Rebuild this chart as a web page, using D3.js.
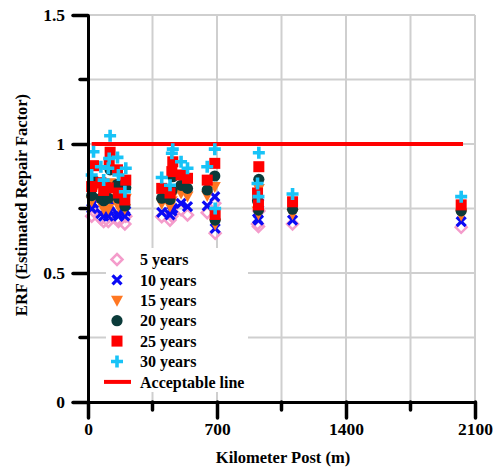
<!DOCTYPE html>
<html>
<head>
<meta charset="utf-8">
<script src="https://cdn.jsdelivr.net/npm/d3@7"></script>
<style>
  body { margin: 0; background: #fff; }
  svg { display: block; font-family: "Liberation Serif", "Times New Roman", serif; font-weight: bold; }
</style>
</head>
<body>
<svg id="chart" width="502" height="468"></svg>
<script>
// kilometer posts of the inspected spans
const km = [20, 30, 70, 85, 110, 115, 120, 160, 165, 200, 205,
    400, 445, 455, 460, 505, 540, 647, 688, 690, 920, 925, 927, 1110, 2025];

const erf5 = [0.72, 0.74, 0.71, 0.70, 0.70, 0.72, 0.73, 0.71, 0.70, 0.69, 0.72,
    0.718, 0.705, 0.72, 0.73, 0.745, 0.725, 0.734, 0.77, 0.654, 0.69, 0.68, 0.74, 0.69, 0.677];
const erf10 = [0.75, 0.77, 0.73, 0.72, 0.72, 0.74, 0.76, 0.73, 0.72, 0.72, 0.74,
    0.735, 0.725, 0.74, 0.75, 0.77, 0.757, 0.76, 0.796, 0.673, 0.71, 0.705, 0.77, 0.705, 0.699];
const erf15 = [0.78, 0.82, 0.77, 0.75, 0.75, 0.79, 0.85, 0.77, 0.76, 0.75, 0.79,
    0.77, 0.76, 0.78, 0.80, 0.81, 0.798, 0.80, 0.835, 0.69, 0.74, 0.73, 0.828, 0.73, 0.725];
const erf20 = [0.80, 0.86, 0.79, 0.78, 0.79, 0.83, 0.90, 0.844, 0.79, 0.76, 0.83,
    0.79, 0.785, 0.82, 0.873, 0.84, 0.828, 0.822, 0.876, 0.705, 0.78, 0.744, 0.863, 0.747, 0.741];
const erf25 = [0.835, 0.916, 0.85, 0.82, 0.83, 0.925, 0.968, 0.90, 0.81, 0.783, 0.86,
    0.828, 0.81, 0.893, 0.931, 0.88, 0.867, 0.86, 0.925, 0.727, 0.81, 0.764, 0.912, 0.776, 0.764];
const erf30 = [0.88, 0.97, 0.912, 0.86, 0.906, 0.944, 1.032, 0.948, 0.88, 0.815, 0.906,
    0.87, 0.84, 0.964, 0.98, 0.931, 0.906, 0.912, 0.98, 0.75, 0.847, 0.796, 0.966, 0.806, 0.796];

const seriesNames = ['5 years', '10 years', '15 years', '20 years', '25 years', '30 years'];
const seriesValues = [erf5, erf10, erf15, erf20, erf25, erf30];
const seriesColors = ['#f49ccb', '#0a0af5', '#ff7722', '#0b3b3a', '#ff0000', '#18c3f7'];

const acceptLevel = 1;
const acceptKm = [20, 2035];

const yMajor = [0, 0.5, 1, 1.5];
const yMinor = [0.25, 0.75, 1.25];
const xMajor = [0, 700, 1400, 2100];
const xMinor = [350, 1050, 1750];

const svg = d3.select('#chart');
const x = d3.scaleLinear().domain([0, 2100]).range([88, 475]);
const y = d3.scaleLinear().domain([0, 1.5]).range([402, 15]);

// grid
const grid = svg.append('g').attr('stroke', '#cfcfcf').attr('stroke-width', 2);
grid.selectAll('.gy').data(yMinor.concat(yMajor.slice(1)))
    .enter().append('line')
    .attr('x1', x(0)).attr('x2', x(2100))
    .attr('y1', d => y(d)).attr('y2', d => y(d));
grid.selectAll('.gx').data(xMinor.concat(xMajor.slice(1)))
    .enter().append('line')
    .attr('x1', d => x(d)).attr('x2', d => x(d))
    .attr('y1', y(0)).attr('y2', y(1.5));

// acceptable line
svg.append('line')
    .attr('x1', x(acceptKm[0])).attr('x2', x(acceptKm[1]))
    .attr('y1', y(acceptLevel)).attr('y2', y(acceptLevel))
    .attr('stroke', '#ff0000').attr('stroke-width', 4);

const drawMarker = (g, i, color) => {
    if (i === 0) {
        g.append('path').attr('d', 'M0,-5.5L5.5,0L0,5.5L-5.5,0Z')
            .attr('fill', 'none').attr('stroke', color).attr('stroke-width', 2.5);
    } else if (i === 1) {
        g.append('path').attr('d', 'M-4.5,-4.5L4.5,4.5M-4.5,4.5L4.5,-4.5')
            .attr('stroke', color).attr('stroke-width', 3.2);
    } else if (i === 2) {
        g.append('path').attr('d', 'M-6,-4.5L6,-4.5L0,6.5Z').attr('fill', color);
    } else if (i === 3) {
        g.append('circle').attr('r', 5.6).attr('fill', color);
    } else if (i === 4) {
        g.append('rect').attr('x', -5.5).attr('y', -5.5).attr('width', 11).attr('height', 11).attr('fill', color);
    } else {
        g.append('path').attr('d', 'M-6,0L6,0M0,-6L0,6')
            .attr('stroke', color).attr('stroke-width', 3.6);
    }
};

// points
seriesValues.forEach((vals, i) => {
    const g = svg.append('g');
    vals.forEach((v, j) => {
        const m = g.append('g').attr('transform', `translate(${x(km[j])},${y(v)})`);
        drawMarker(m, i, seriesColors[i]);
    });
});

// axes
const yAxis = d3.axisLeft(y).tickValues(yMajor).tickSize(15).tickSizeOuter(0)
    .tickPadding(8).tickFormat(d => String(d));
const xAxis = d3.axisBottom(x).tickValues(xMajor).tickSize(16).tickSizeOuter(0)
    .tickPadding(5).tickFormat(d => String(d));

const styleAxis = g => {
    g.select('.domain').attr('stroke', '#000').attr('stroke-width', 3);
    g.selectAll('.tick line').attr('stroke', '#000').attr('stroke-width', 3.5).attr('stroke-linecap', 'round');
    g.selectAll('.tick text').attr('fill', '#000')
        .style('font-family', '"Liberation Serif", serif').style('font-weight', 'bold').style('font-size', '17.5px');
};

svg.append('g').attr('transform', `translate(${x(0)},0)`).call(yAxis).call(styleAxis);
svg.append('g').attr('transform', `translate(0,${y(0)})`).call(xAxis).call(styleAxis);

const minor = svg.append('g').attr('stroke', '#000').attr('stroke-width', 3.5).attr('stroke-linecap', 'round');
minor.selectAll('.my').data(yMinor).enter().append('line')
    .attr('x1', x(0) - 8).attr('x2', x(0)).attr('y1', d => y(d)).attr('y2', d => y(d));
minor.selectAll('.mx').data(xMinor).enter().append('line')
    .attr('x1', d => x(d)).attr('x2', d => x(d)).attr('y1', y(0)).attr('y2', y(0) + 8);

// axis titles
svg.append('text')
    .attr('x', 283).attr('y', 463)
    .attr('text-anchor', 'middle')
    .style('font-size', '16.5px')
    .text('Kilometer Post (m)');
svg.append('text')
    .attr('transform', 'translate(27,205) rotate(-90)')
    .attr('text-anchor', 'middle')
    .style('font-size', '16.5px')
    .text('ERF (Estimated Repair Factor)');

// legend
const legend = svg.append('g');
legend.append('rect').attr('x', 106).attr('y', 248).attr('width', 142).attr('height', 144).attr('fill', '#fff');
seriesNames.forEach((name, i) => {
    const row = legend.append('g').attr('transform', `translate(0,${259.5 + i * 20.4})`);
    const m = row.append('g').attr('transform', 'translate(117,0)');
    drawMarker(m, i, seriesColors[i]);
    row.append('text').attr('x', 140).attr('dy', '0.35em').style('font-size', '16px').text(name);
});
const lastRow = legend.append('g').attr('transform', `translate(0,${259.5 + 6 * 20.4})`);
lastRow.append('line').attr('x1', 104).attr('x2', 131).attr('stroke', '#ff0000').attr('stroke-width', 4);
lastRow.append('text').attr('x', 140).attr('dy', '0.35em').style('font-size', '16px').text('Acceptable line');
</script>
</body>
</html>
